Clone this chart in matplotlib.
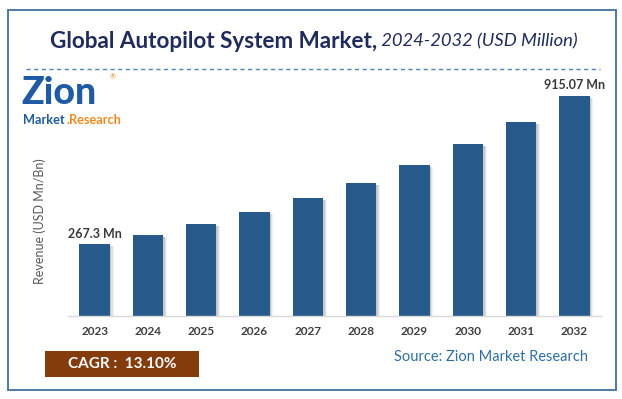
import matplotlib
matplotlib.use("Agg")
import matplotlib.pyplot as plt
from matplotlib.patches import Rectangle
from matplotlib.lines import Line2D

# ---- data ----
years = ["2023", "2024", "2025", "2026", "2027", "2028", "2029", "2030", "2031", "2032"]
values = [267.3, 306.6, 356.0, 409.7, 470.8, 535.1, 615.0, 704.1, 800.2, 915.07]
value_labels = {0: "267.3 Mn", 9: "915.07 Mn"}
title_bold = "Global Autopilot System Market,"
title_rest = " 2024-2032 (USD Million)"
y_label = "Revenue (USD Mn/Bn)"
cagr_text = "CAGR :  13.10%"
source_text = "Source: Zion Market Research"

FONT = ["Lato", "DejaVu Sans"]
plt.rcParams["font.family"] = FONT

W, H = 622, 399
fig = plt.figure(figsize=(W / 100, H / 100), dpi=100)
fig.patch.set_facecolor("white")

def fx(px):
    return px / W

def fy(py):
    return 1 - py / H

# outer frame
fig.add_artist(Rectangle((fx(8), fy(390)), fx(616) - fx(8), fy(10) - fy(390),
                         transform=fig.transFigure, fill=False,
                         edgecolor="#41719C", linewidth=1.3))

# title
t1 = fig.text(fx(50), fy(41), title_bold, fontsize=16.2, fontweight="bold",
              color="#1F2A5E", va="center", ha="left")
fig.canvas.draw()
bb = t1.get_window_extent()
fig.text(bb.x1 / W, fy(41), title_rest, fontsize=13.2, style="italic",
         color="#1F2A5E", va="center", ha="left")

# dashed separator
fig.add_artist(Line2D([fx(26), fx(600)], [fy(69), fy(69)], transform=fig.transFigure,
                      color="#4F81BD", linewidth=1.0, linestyle=(0, (3, 2.5))))

# logo (text approximation)
fig.text(fx(21), fy(104), "Zion", fontsize=27, fontweight="black", color="#1F5AA6",
         va="baseline", ha="left")
fig.text(fx(110), fy(77), "®", fontsize=5, color="#F08A1C", va="center", ha="left")
tm = fig.text(fx(23), fy(120), "Market", fontsize=9.2, fontweight="bold",
              color="#1F5AA6", va="center", ha="left")
fig.canvas.draw()
bm = tm.get_window_extent()
fig.text(bm.x1 / W + fx(1.5), fy(120), ".Research", fontsize=9.2, fontweight="bold",
         color="#F08A1C", va="center", ha="left")

# axes
ax_left, ax_right = 68, 601
ax_bottom, ax_top = 316, 80
ax = fig.add_axes([fx(ax_left), fy(ax_bottom), fx(ax_right) - fx(ax_left),
                   fy(ax_top) - fy(ax_bottom)])
floor = -45.9
ax.set_ylim(floor, 985.0)
ax.set_xlim(-0.5, len(years) - 0.5)
x = list(range(len(years)))
heights = [v - floor for v in values]

# soft shadows
for off, a in [(0.07, 0.10), (0.05, 0.15), (0.03, 0.25)]:
    ax.bar([i + off for i in x], [h - 8 for h in heights], bottom=floor, width=0.57,
           color="#7F7F7F", alpha=a, linewidth=0, zorder=1)
ax.bar(x, heights, bottom=floor, width=0.57, color="#27598A", linewidth=0, zorder=2)

for i, lab in value_labels.items():
    ax.text(i, values[i] + 20, lab, ha="center", va="bottom", fontsize=9,
            fontweight="bold", color="#3A3A3A")

ax.set_xticks(x)
ax.set_xticklabels(years, fontsize=8.5, fontweight="bold", color="#404040")
ax.tick_params(axis="x", length=0, pad=7)
ax.set_yticks([])
for s in ["top", "right", "left"]:
    ax.spines[s].set_visible(False)
ax.spines["bottom"].set_color("#D9D9D9")
ax.spines["bottom"].set_linewidth(1.0)
ax.patch.set_alpha(0)

fig.text(fx(40), fy(221), y_label, rotation=90, fontsize=9, color="#595959",
         va="center", ha="center")

# CAGR box
fig.add_artist(Rectangle((fx(45), fy(377)), fx(199) - fx(45), fy(351) - fy(377),
                         transform=fig.transFigure, facecolor="#843C0C",
                         edgecolor="none"))
fig.text(fx(122), fy(364), cagr_text, fontsize=11, fontweight="bold", color="white",
         va="center", ha="center")

fig.text(fx(588), fy(357), source_text, fontsize=10.5, color="#2E6EA6",
         va="center", ha="right")

fig.savefig("out.png", dpi=100, facecolor="white")
